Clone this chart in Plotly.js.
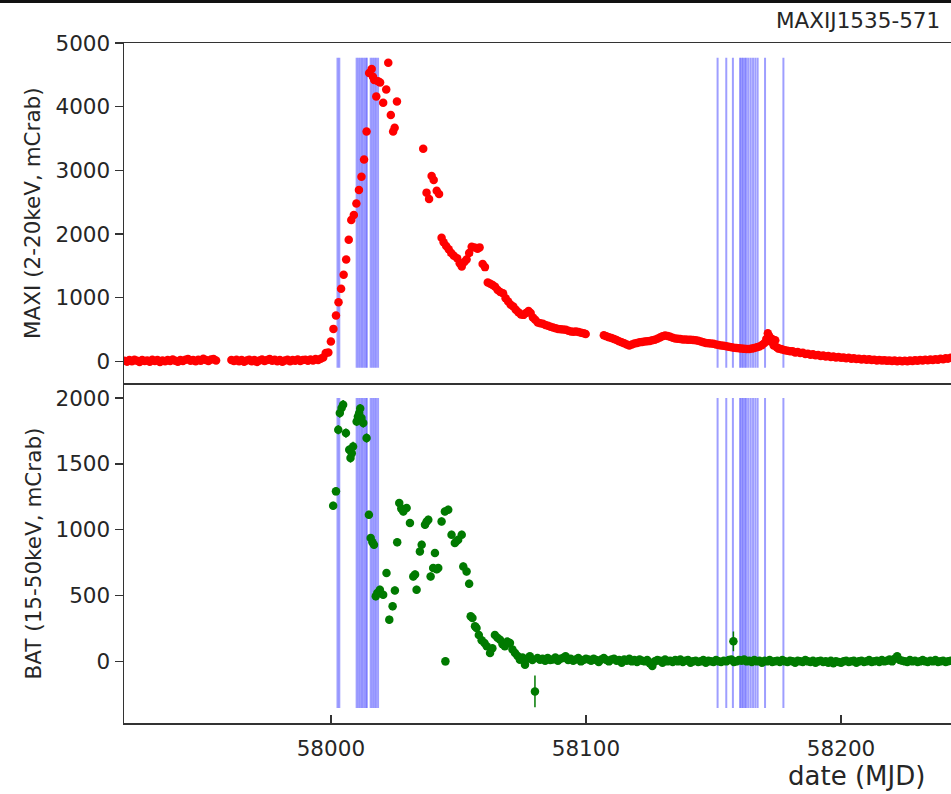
<!DOCTYPE html>
<html>
<head>
<meta charset="utf-8">
<script src="https://cdn.plot.ly/plotly-3.0.1.min.js"></script>
<style>html,body{margin:0;padding:0;background:#fff;}#chart{width:951px;height:794px;}</style>
</head>
<body>
<div id="chart"></div>
<script>
// ---------------- DATA ----------------
const sourceName = "MAXIJ1535-571";
const xTickVals = [58000, 58100, 58200];
const maxiTickVals = [0, 1000, 2000, 3000, 4000, 5000];
const batTickVals = [0, 500, 1000, 1500, 2000];

// MAXI 2-20 keV light curve (mCrab)
const maxiMJD = [
57919,57920,57921,57922,57923,57924,57925,57926,57927,57928,57929,57930,57931,57932,57933,57934,57935,57936,57937,57938,
57939,57940,57941,57942,57943,57944,57945,57946,57947,57948,57949,57950,57951,57952,57953,57954,57955,
57961,57962,57963,57964,57965,57966,57967,57968,57969,57970,57971,57972,57973,57974,57975,57976,57977,57978,57979,57980,
57981,57982,57983,57984,57985,57986,57987,57988,57989,57990,57991,57992,57993,57994,57995,57996,57997,57998,
57999,58000,58001,58002,58003,58004,58005,58006,58007,58008,58009,58010,58011,58012,58013,58014,58015,58016,58016.5,58017,
58017.8,58018.5,58019.3,58020.5,58021.7,58022.5,58023.5,58024.4,58025,58025.9,
58036.2,58037.5,58038.5,58039.5,58040.3,58041.5,58042.4,58043.4,58044.2,58045.2,58046.2,58047.2,58048.2,58049.5,58050.5,
58051.3,58052.3,58053.2,58054.2,58055.2,58056.3,58057.5,58058.3,58059.5,58060.4,58061.5,58062.5,58063.4,58064.4,58065.4,
58066.4,58067.5,58068.5,58069.5,58070.5,58071.5,58072.5,58073.5,58074.5,58075.5,58076.5,58077.5,58078.3,58079.2,58080.1,
58081.1,58082.1,58083.1,58084.1,58085.1,58086.1,58087.1,58088.1,58089.1,58090.1,58091.1,58092.1,58093.1,58094.1,58095.1,
58096.1,58097.1,58098.1,58099.1,58099.9,
58107,58108,58109,58110,58111,58112,58113,58114,58115,58116,58117,58118,58119,58120,58121,58122,58123,58124,58125,58126,
58127,58128,58129,58130,58131,58132,58133,58134,58135,58136,58137,58138,58139,58140,58141,58142,58143,58144,58145,58146,
58147,58148,58149,58150,58151,58152,58153,58154,58155,58156,58157,58158,58159,58160,58161,58162,58163,58164,58165,58166,
58167,58168,58169,58170,58170.7,58171.3,58171.8,58172.4,58173,58173.6,58174.2,58174.8,58175.5,58176.3,58177,58178,58179,58180,
58181,58182,58183,58184,58185,58186,58187,58188,58189,58190,58191,58192,58193,58194,58195,58196,58197,58198,58199,58200,
58201,58202,58203,58204,58205,58206,58207,58208,58209,58210,58211,58212,58213,58214,58215,58216,58217,58218,58219,58220,
58221,58222,58223,58224,58225,58226,58227,58228,58229,58230,58231,58232,58233,58234,58235,58236,58237,58238,58239,58240,
58241,58242,58243
];
const maxiRate = [
10,-5,20,0,25,10,-10,20,5,15,-5,25,5,20,-10,15,0,20,5,30,
10,-5,20,5,25,35,10,20,0,25,10,40,20,5,30,35,15,
20,5,25,0,20,-5,15,25,0,20,-10,15,30,5,20,35,10,25,0,20,
-5,15,25,0,20,10,30,5,20,25,10,30,15,35,20,40,60,130,
140,310,510,720,930,1140,1360,1600,1910,2220,2300,2480,2690,2900,3170,3610,4530,4590,4470,4420,
4160,4400,4380,4060,4270,4690,3870,3610,3670,4080,
3340,2650,2550,2910,2850,2680,2630,1940,1870,1810,1760,1700,1660,1620,1540,
1490,1560,1600,1700,1800,1790,1770,1790,1530,1480,1240,1220,1200,1170,1120,
1090,1070,990,940,890,860,810,770,735,730,760,790,760,690,655,
610,600,590,570,560,545,530,520,510,505,500,495,480,470,465,
470,460,450,440,430,
410,395,380,365,350,335,315,300,285,265,250,265,280,290,300,305,310,315,320,330,
340,355,375,395,405,400,385,370,360,355,350,345,345,340,340,335,330,325,310,300,
290,285,280,275,265,258,250,245,238,230,222,215,210,205,200,196,194,195,200,208,
220,235,255,290,350,440,400,310,350,250,330,220,200,195,185,175,165,160,
160,140,145,130,135,115,120,105,110,95,100,85,92,78,85,70,76,62,68,55,
60,48,55,42,48,36,42,30,38,25,32,20,27,15,22,12,18,8,15,5,
12,2,10,0,10,2,14,5,18,8,20,12,24,16,28,20,34,24,40,34,
50,42,58
];

// Swift/BAT 15-50 keV light curve (mCrab)
const batMJD = [
58000.9,58002.0,58002.9,58003.5,58004.2,58004.8,58005.9,58007.2,58007.7,58008.2,58008.7,58010.1,58010.6,58011.1,58011.5,
58012.0,58012.7,58014.0,58014.9,58015.6,58016.3,58016.9,58017.6,58018.2,58019.2,58020.5,58021.8,58022.9,58024.2,58025.1,
58026.0,58026.8,58027.6,58028.4,58029.7,58031.0,58032.3,58033.0,58033.6,58034.9,58035.6,58036.9,58037.5,58038.2,58039.1,
58040.1,58040.8,58041.5,58042.1,58043.4,58044.7,58044.9,58046.0,58047.3,58048.6,58049.3,58049.9,58051.3,58051.9,58053.2,
58054.2,58054.8,58055.5,58056.5,58057.1,58058.0,58059.1,58060.2,58061.1,58062.4,58063.3,58064.3,58065.3,58066.3,58067.3,
58068.2,58069.2,58070.2,58071.2,58072.2,58073.2,58074.1,58075.1,58076.1,58077.0,58078.0,58079.0,58080.0,58081.0,58082.0,
58083,58084,58085,58086,58087,58088,58089,58090,58091,58092,
58093,58094,58095,58096,58097,58098,58099,58100,58101,58102,
58103,58104,58105,58106,58107,58108,58109,58110,58111,58112,
58113,58114,58115,58116,58117,58118,58119,58120,58121,58122,
58123,58124,58125,58126,58127,58128,58129,58130,58131,58132,
58133,58134,58135,58136,58137,58138,58139,58140,58141,58142,
58143,58144,58145,58146,58147,58148,58149,58150,58151,58152,
58153,58154,58155,58156,58157,58157.8,58158,58159,58160,58161,58162,
58163,58164,58165,58166,58167,58168,58169,58170,58171,58172,
58173,58174,58175,58176,58177,58178,58179,58180,58181,58182,
58183,58184,58185,58186,58187,58188,58189,58190,58191,58192,
58193,58194,58195,58196,58197,58198,58199,58200,58201,58202,
58203,58204,58205,58206,58207,58208,58209,58210,58211,58212,
58213,58214,58215,58216,58217,58218,58219,58220,58221,58222,
58223,58224,58225,58226,58227,58228,58229,58230,58231,58232,
58233,58234,58235,58236,58237,58238,58239,58240,58241,58242,
58243
];
const batRate = [
1182,1291,1759,1886,1924,1949,1734,1607,1544,1580,1632,1822,1860,1886,1920,
1848,1810,1696,1114,937,905,886,494,520,544,506,671,317,418,539,
904,1203,1160,1139,1165,1051,645,660,544,835,886,1038,1060,1076,645,
709,823,700,709,1063,1139,0,1152,962,899,915,924,962,721,683,
590,342,330,266,254,200,160,140,114,64,100,200,180,165,130,
114,150,140,90,64,40,13,30,-25,20,38,10,-228,25,13,
20,5,25,10,15,30,5,20,25,38,
10,20,5,15,25,0,10,20,15,5,
20,10,-5,15,25,10,0,15,20,5,
10,-10,15,5,20,0,10,-5,15,5,
0,10,-15,-35,0,10,5,-10,15,0,
5,-5,10,0,15,-5,5,10,-10,0,
5,-5,0,10,-10,5,0,-5,10,0,
-5,5,0,10,15,152,-5,0,10,5,15,
0,5,-5,10,0,5,-10,5,0,10,
-5,0,5,-5,10,0,-5,5,0,-10,
5,0,-5,10,0,-5,5,-10,0,5,
-5,0,-10,5,-15,0,-5,-10,0,5,
-5,0,5,-10,0,5,-5,0,10,-5,
0,5,-5,10,0,5,15,0,20,38,
10,5,0,-5,10,0,5,-5,0,10,
0,-5,5,0,10,-5,0,5,-5,0,
5
];
const batErr = [
30,30,35,35,35,35,35,35,35,35,35,35,35,35,35,
35,35,35,30,30,30,30,30,30,30,30,30,30,30,30,
30,30,30,30,30,30,30,30,30,30,30,30,30,30,30,
30,30,30,30,30,30,30,30,30,30,30,30,30,30,30,
30,25,25,25,25,25,25,25,25,25,25,25,25,25,25,
25,25,25,25,25,25,25,25,25,25,25,25,120,25,25,
15,15,15,15,15,15,15,15,15,15,
15,15,15,15,15,15,15,15,15,15,
15,15,15,15,15,15,15,15,15,15,
15,15,15,15,15,15,15,15,15,15,
15,15,15,15,15,15,15,15,15,15,
15,15,15,15,15,15,15,15,15,15,
15,15,15,15,15,15,15,15,15,15,
15,15,15,15,15,75,15,15,15,15,15,
15,15,15,15,15,15,15,15,15,15,
15,15,15,15,15,15,15,15,15,15,
15,15,15,15,15,15,15,15,15,15,
15,15,15,15,15,15,15,15,15,15,
15,15,15,15,15,15,15,15,15,15,
15,15,15,15,15,15,15,15,15,15,
15,15,15,15,15,15,15,15,15,15,
15,15,15,15,15,15,15,15,15,15,
15
];

// Observation epochs (vertical lines), MJD
const obsDates = [
58002.6,58003.3,
58010.1,58010.8,58011.5,58012.2,58012.9,58013.6,58014.1,
58015.6,58016.3,58017.0,58017.7,58018.5,
58151.6,58155.0,58157.6,58160.4,58161.0,58161.6,58162.3,58162.9,
58163.7,58164.6,58165.5,58166.4,58167.3,58170.2,58177.4
];

// ---------------- PLOT ----------------
const FONT = "DejaVu Sans, Bitstream Vera Sans, sans-serif";
const TXT = "#262626";
const AX = "#333333";
const obsLineTop = [-100, 4770];
const obsLineBat = [-354, 2000];

const shapes = [];
obsDates.forEach(d => {
  shapes.push({type:'line', xref:'x2', yref:'y2', x0:d, x1:d, y0:obsLineTop[0], y1:obsLineTop[1],
    line:{color:'rgba(0,0,255,0.38)', width:2}, layer:'below'});
  shapes.push({type:'line', xref:'x', yref:'y', x0:d, x1:d, y0:obsLineBat[0], y1:obsLineBat[1],
    line:{color:'rgba(0,0,255,0.38)', width:2}, layer:'below'});
});
// dark strip at top of the figure
shapes.push({type:'rect', xref:'paper', yref:'paper', x0:-0.16, x1:1.01, y0:1+40/680, y1:1+44/680,
  fillcolor:'#111', line:{width:0}, layer:'above'});

const traces = [
  {x: maxiMJD, y: maxiRate, xaxis:'x2', yaxis:'y2', type:'scatter', mode:'markers',
   marker:{color:'#ff0000', size:8.5, line:{width:0}}, hoverinfo:'x+y'},
  {x: batMJD, y: batRate, xaxis:'x', yaxis:'y', type:'scatter', mode:'markers',
   error_y:{type:'data', array: batErr, visible:true, color:'#007a00', thickness:1.5, width:0},
   marker:{color:'#007a00', size:8.5, line:{width:0}}, hoverinfo:'x+y'}
];

const tickfont = {family: FONT, size: 21.5, color: TXT};
const xr = [57918.9, 58243.1];

const layout = {
  width: 951, height: 794,
  margin: {l:124, r:0, t:43, b:71, pad:0},
  paper_bgcolor:'#ffffff', plot_bgcolor:'#ffffff',
  showlegend:false,
  font:{family: FONT, color: TXT},
  xaxis: {domain:[0,1], anchor:'y', range: xr, tickmode:'array', tickvals: xTickVals, tickformat:'d',
    ticks:'inside', ticklen:8, tickwidth:1.5, tickcolor:AX, showline:true, linecolor:AX, linewidth:1.5,
    showgrid:false, zeroline:false, tickfont: tickfont, ticklabelstandoff: 6},
  yaxis: {domain:[0,0.5], anchor:'x', range:[-468, 2114], tickmode:'array', tickvals: batTickVals,
    ticks:'outside', ticklen:8, tickwidth:1.5, tickcolor:AX, showline:true, linecolor:AX, linewidth:1.5,
    showgrid:false, zeroline:false, tickfont: tickfont},
  xaxis2: {domain:[0,1], anchor:'y2', range: xr, matches:'x', showticklabels:false, ticks:'',
    showline:true, mirror:true, linecolor:AX, linewidth:1.5, showgrid:false, zeroline:false},
  yaxis2: {domain:[0.5,1], anchor:'x2', range:[-340, 5000], tickmode:'array', tickvals: maxiTickVals,
    ticks:'outside', ticklen:8, tickwidth:1.5, tickcolor:AX, showline:true, linecolor:AX, linewidth:1.5,
    showgrid:false, zeroline:false, tickfont: tickfont},
  shapes: shapes,
  annotations: [
    {text: sourceName, xref:'paper', yref:'paper', x:(942-124)/827, y:1+(43-21)/680,
     xanchor:'right', yanchor:'middle', showarrow:false, font:{family:FONT, size:21.5, color:TXT}},
    {text:'MAXI (2-20keV, mCrab)', xref:'paper', yref:'paper', x:(32-124)/827, y:1-(213-43)/680,
     xanchor:'center', yanchor:'middle', textangle:-90, showarrow:false, font:{family:FONT, size:21.5, color:TXT}},
    {text:'BAT (15-50keV, mCrab)', xref:'paper', yref:'paper', x:(33-124)/827, y:1-(553.5-43)/680,
     xanchor:'center', yanchor:'middle', textangle:-90, showarrow:false, font:{family:FONT, size:21.5, color:TXT}},
    {text:'date (MJD)', xref:'paper', yref:'paper', x:(856.5-124)/827, y:-(776-723)/680,
     xanchor:'center', yanchor:'middle', showarrow:false, font:{family:FONT, size:26, color:TXT}}
  ]
};

Plotly.newPlot('chart', traces, layout, {staticPlot:true, displayModeBar:false});
</script>
</body>
</html>
